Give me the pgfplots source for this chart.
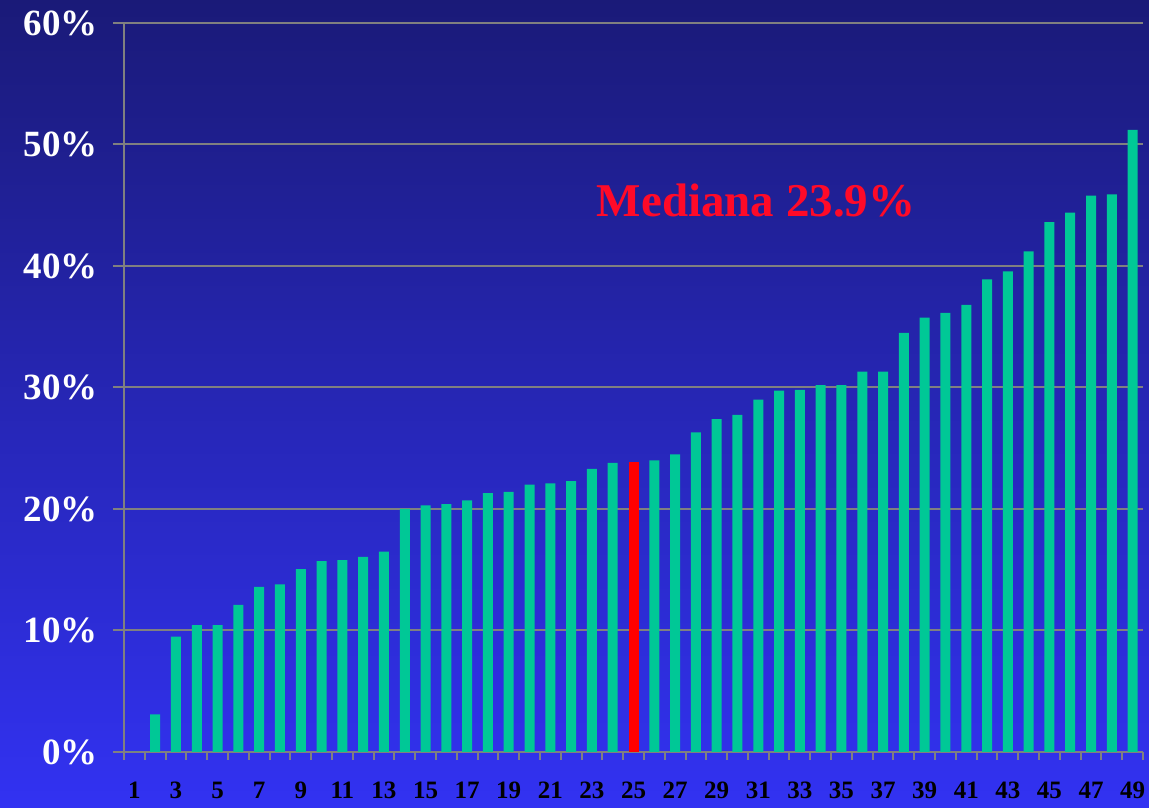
\documentclass[border=0pt]{standalone}
\usepackage{pgfplots}
\pgfplotsset{compat=1.18}
\usepackage{fontspec}
\setmainfont{Liberation Serif}
\definecolor{bgtop}{RGB}{26,26,120}
\definecolor{bgbot}{RGB}{50,50,242}
\definecolor{bargreen}{RGB}{0,200,150}
\definecolor{medred}{RGB}{255,10,40}
\definecolor{gridgray}{RGB}{128,128,128}
\begin{document}
\begin{tikzpicture}
\useasboundingbox (0,0) rectangle (574.5pt,403.5pt);
\fill[top color=bgtop, bottom color=bgbot] (0,0) rectangle (574.5pt,403.5pt);
\begin{axis}[
  at={(62pt,27.5pt)}, anchor=south west,
  scale only axis, width=509.5pt, height=364.5pt,
  xmin=0.5, xmax=49.5, ymin=0, ymax=60,
  axis lines=left, axis line style={-, draw=gridgray, line width=1pt},
  ytick={0,10,...,60},
  yticklabels={0\%,10\%,20\%,30\%,40\%,50\%,60\%},
  ymajorgrids, grid style={draw=gridgray, line width=1pt},
  tick align=outside,
  major tick length=5.5pt,
  y tick style={draw=gridgray, line width=1pt},
  xtick={1,3,...,49},
  xticklabels={1,3,5,7,9,11,13,15,17,19,21,23,25,27,29,31,33,35,37,39,41,43,45,47,49},
  x tick style={draw=none},
  minor xtick={0.5,1.5,...,49.5},
  minor tick length=4pt,
  minor x tick style={draw=gridgray, line width=1pt},
  xticklabel style={font=\fontsize{12.5}{14}\selectfont\bfseries, text=black, yshift=-6pt},
  yticklabel style={font=\fontsize{18.5}{20}\selectfont\bfseries, text=white, xshift=-4pt},
  /pgf/number format/assume math mode=true,
  ybar, bar width=5pt, bar shift=0pt,
  clip=false,
]
\addplot[fill=bargreen, draw=none] coordinates {
(1,0) (2,3.1) (3,9.5) (4,10.45) (5,10.45) (6,12.1) (7,13.6) (8,13.8) (9,15.05) (10,15.7)
(11,15.8) (12,16.05) (13,16.5) (14,20.0) (15,20.3) (16,20.4) (17,20.7) (18,21.3) (19,21.4) (20,22.0)
(21,22.1) (22,22.3) (23,23.3) (24,23.8) (26,24.0) (27,24.5) (28,26.3) (29,27.4) (30,27.75)
(31,29.0) (32,29.75) (33,29.8) (34,30.2) (35,30.2) (36,31.3) (37,31.3) (38,34.5) (39,35.75) (40,36.15)
(41,36.8) (42,38.9) (43,39.55) (44,41.2) (45,43.6) (46,44.4) (47,45.8) (48,45.9) (49,51.2)
};
\addplot[fill=red, draw=none] coordinates {(25,23.9)};
\node[text=medred, font=\fontsize{23.5}{26}\selectfont\bfseries] at (axis cs:30.9,45.4) {Mediana 23.9\%};
\end{axis}
\end{tikzpicture}
\end{document}
